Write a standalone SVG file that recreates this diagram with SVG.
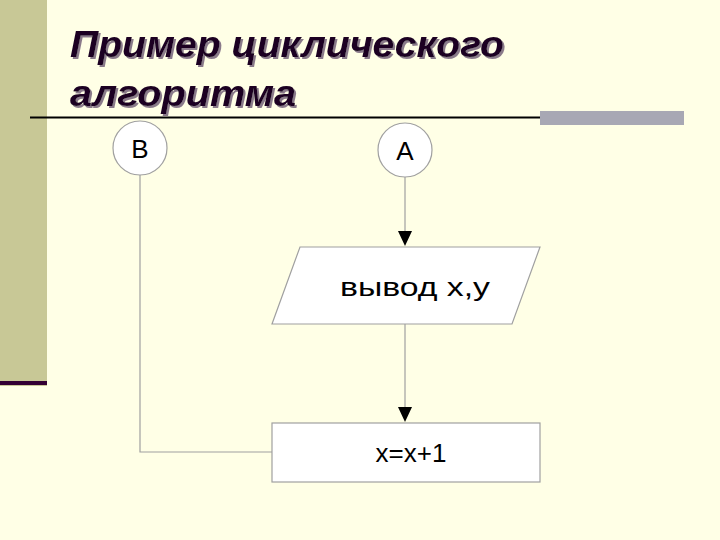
<svg xmlns="http://www.w3.org/2000/svg" width="720" height="540" viewBox="0 0 720 540">
<style>
.n{fill:#fff;stroke:#a0a0a0;stroke-width:1.2}
.c{fill:none;stroke:#a0a0a0;stroke-width:1.2}
.t{font-family:"Liberation Sans",Arial,sans-serif;font-size:26px;fill:#000;text-anchor:middle}
.h{font-family:"Liberation Sans",Arial,sans-serif;font-size:37px;font-weight:bold;font-style:italic;fill:#1a0020;filter:url(#sh)}
</style>
<defs><filter id="sh" x="-5%" y="-20%" width="110%" height="140%"><feDropShadow dx="2" dy="2" stdDeviation="0.5" flood-color="#8a7a8a"/></filter></defs>
<rect width="720" height="540" fill="#ffffe6"/>
<rect width="47" height="386" fill="#c8c896"/>
<rect x="0" y="381" width="47" height="4" fill="#330033"/>
<text class="h" x="70" y="57" textLength="434" lengthAdjust="spacingAndGlyphs">Пример циклического</text>
<text class="h" x="70" y="106" textLength="226" lengthAdjust="spacingAndGlyphs">алгоритма</text>
<line x1="30" y1="117.5" x2="540" y2="117.5" stroke="#000" stroke-width="2"/>
<rect x="540" y="111" width="144" height="14" fill="#a8a8b4"/>
<g id="connectors">
<path class="c" d="M140,175V452H272"/>
<path class="c" d="M405,177V233"/>
<path class="c" d="M405,324V408"/>
<path d="M398,231L412,231L405,246z" fill="#000"/>
<path d="M398,407L412,407L405,422z" fill="#000"/>
</g>
<g id="B"><circle class="n" cx="140" cy="148" r="27"/><text class="t" x="140" y="158">B</text></g>
<g id="A"><circle class="n" cx="405" cy="150" r="27"/><text class="t" x="405" y="160">A</text></g>
<g id="out"><path class="n" d="M300,247H540L512,324H272z"/><text class="t" x="415" y="296" textLength="150" lengthAdjust="spacingAndGlyphs">вывод x,y</text></g>
<g id="inc"><rect class="n" x="272" y="423" width="268" height="59"/><text class="t" x="411" y="462">x=x+1</text></g>
</svg>
